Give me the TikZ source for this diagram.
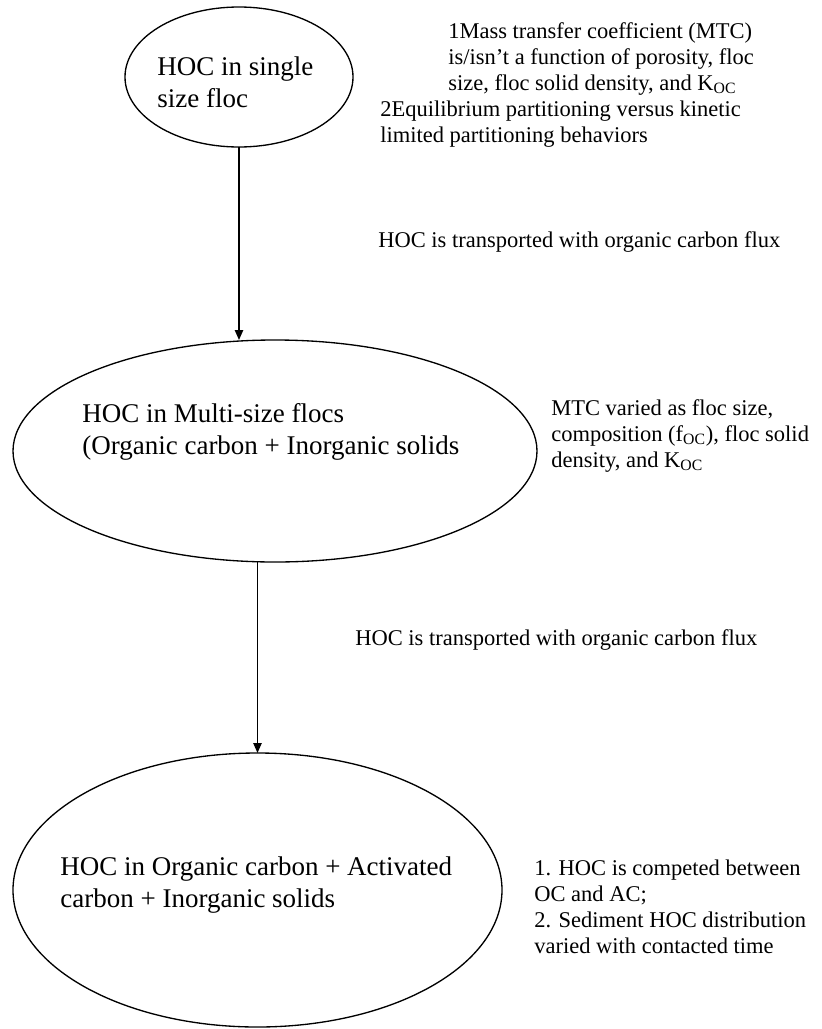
\documentclass[tikz,border=0pt]{standalone}
\usepackage{fontspec}
\setmainfont{Liberation Serif}
\usetikzlibrary{arrows.meta,shapes.geometric}
\begin{document}
\begin{tikzpicture}[x=0.6pt,y=-0.6pt,
  blob/.style={draw,ellipse,line width=0.8pt,inner sep=0pt,outer sep=0pt},
  bigtext/.style={anchor=base west,inner sep=0pt,align=left,font=\fontsize{16.2}{19.2}\selectfont},
  note/.style={anchor=base west,inner sep=0pt,align=left,font=\fontsize{13.5}{15.6}\selectfont},
  flow/.style={line width=1pt,-{Triangle[length=6pt,width=5pt]}}]
\useasboundingbox (0,0) rectangle (822,1029);
\node[blob,minimum width=136.8pt,minimum height=84pt] (e1) at (239,77) {};
\node[blob,minimum width=314.4pt,minimum height=133.2pt] (e2) at (275,451) {};
\node[blob,minimum width=293.4pt,minimum height=164.4pt] (e3) at (257.5,890) {};
\node[bigtext] (t1) at (157,107) {HOC in single\\size floc};
\node[bigtext] (t2) at (82,454) {HOC in Multi-size flocs\\(Organic carbon + Inorganic solids};
\node[bigtext] (t3) at (60,907) {HOC in Organic carbon + Activated\\carbon + Inorganic solids};
\node[note] (n1) at (380,142) {\hspace*{40.8pt}1Mass transfer coefficient (MTC)\\\hspace*{40.8pt}is/isn’t a function of porosity, floc\\\hspace*{40.8pt}size, floc solid density, and K\textsubscript{OC}\\2Equilibrium partitioning versus kinetic\\limited partitioning behaviors};
\node[note] (l1) at (378,247) {HOC is transported with organic carbon flux};
\node[note] (n2) at (551,467) {MTC varied as floc size,\\composition (f\textsubscript{OC}), floc solid\\density, and K\textsubscript{OC}};
\node[note] (l2) at (355,645) {HOC is transported with organic carbon flux};
\node[note] (n3) at (534,953) {1. HOC is competed between\\OC and AC;\\2. Sediment HOC distribution\\varied with contacted time};
\draw[flow] (e1.south) -- (e1.south |- e2.north);
\draw[flow] (e3.north |- e2.south) -- (e3.north);
\end{tikzpicture}
\end{document}
